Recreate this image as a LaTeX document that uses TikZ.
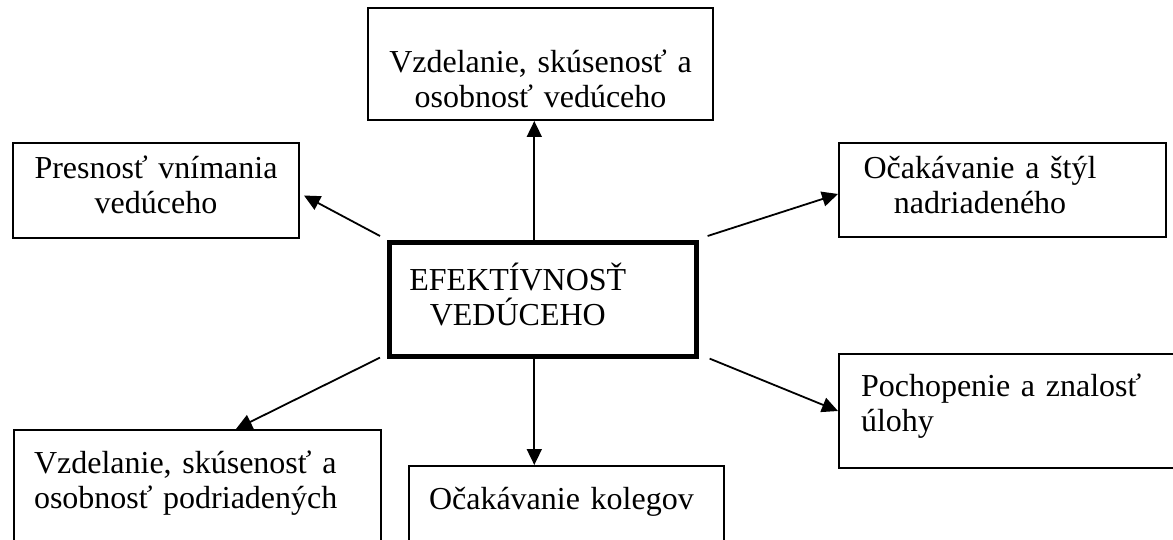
\documentclass[tikz,border=0pt]{standalone}
\usepackage{fontspec}
\setmainfont{Liberation Serif}
\usetikzlibrary{arrows.meta}

\tikzset{
  box/.style={draw, line width=1pt, anchor=north west, inner sep=0pt, align=center,
              font=\fontsize{16}{17.5}\selectfont},
  inset/.style 2 args={execute at begin node={\leftskip=#1\rightskip=#2\parfillskip=0pt\relax}},
  arr/.style={-{Triangle[length=8pt,width=7.5pt]}, line width=0.9pt},
}

\begin{document}
\begin{tikzpicture}[x=0.5pt, y=-0.5pt]
            \useasboundingbox (0,0) rectangle (1173,540);
            \clip (0,0) rectangle (1173,540);
            % Center
            \node[box, line width=2.3pt, text width=153.5pt, text height=24pt, text depth=33pt,
                  inset={0pt plus 1fil}{25pt plus 1fil}] (efekt) at (387,240) {EFEKTÍVNOSŤ\\VEDÚCEHO};
            % Upper boxes
            \node[box, text width=172.5pt, text height=32.5pt, text depth=23.5pt] (ved) at (367,7)
                 {Vzdelanie, skúsenosť a\\osobnosť vedúceho};
            \node[box, text width=143pt, text height=17.5pt, text depth=30pt] (pres) at (12,142)
                 {Presnosť vnímania\\vedúceho};
            \node[box, text width=163.5pt, text height=17.5pt, text depth=29.5pt,
                  inset={0pt plus 1fil}{22.5pt plus 1fil}] (nadr) at (838,142)
                 {Očakávanie a štýl\\nadriadeného};
            % Lower boxes
            \node[box, text width=171pt, text height=21pt, text depth=36pt,
                  inset={11pt}{0pt plus 1fil}] (ulohy) at (838,353)
                 {Pochopenie a znalosť\\úlohy};
            \node[box, text width=183.5pt, text height=21.5pt, text depth=44pt,
                  inset={10pt}{0pt plus 1fil}] (podr) at (13,429)
                 {Vzdelanie, skúsenosť a\\osobnosť podriadených};
            \node[box, text width=157.5pt, text height=21.5pt, text depth=26pt,
                  inset={10pt}{0pt plus 1fil}] (koleg) at (408,465)
                 {Očakávanie kolegov};
            % Arrows
            \draw[arr] ([xshift=-4.25pt]efekt.north) -- ([xshift=-4.25pt]efekt.north |- ved.south);
            \draw[arr] ([xshift=-4.25pt]efekt.south) -- ([xshift=-4.25pt]efekt.south |- koleg.north);
            \draw[arr] ([shift={(-3.5pt,2pt)}]efekt.north west) -- ([shift={(2pt,-2.5pt)}]pres.east);
            \draw[arr] ([shift={(4.5pt,2pt)}]efekt.north east) -- ([yshift=-2pt]nadr.west);
            \draw[arr] ([shift={(5.5pt,0pt)}]efekt.south east) -- (ulohy.west);
            \draw[arr] ([shift={(-3.5pt,0.5pt)}]efekt.south west) -- ([xshift=19.25pt]podr.north);
        \end{tikzpicture}
\end{document}
